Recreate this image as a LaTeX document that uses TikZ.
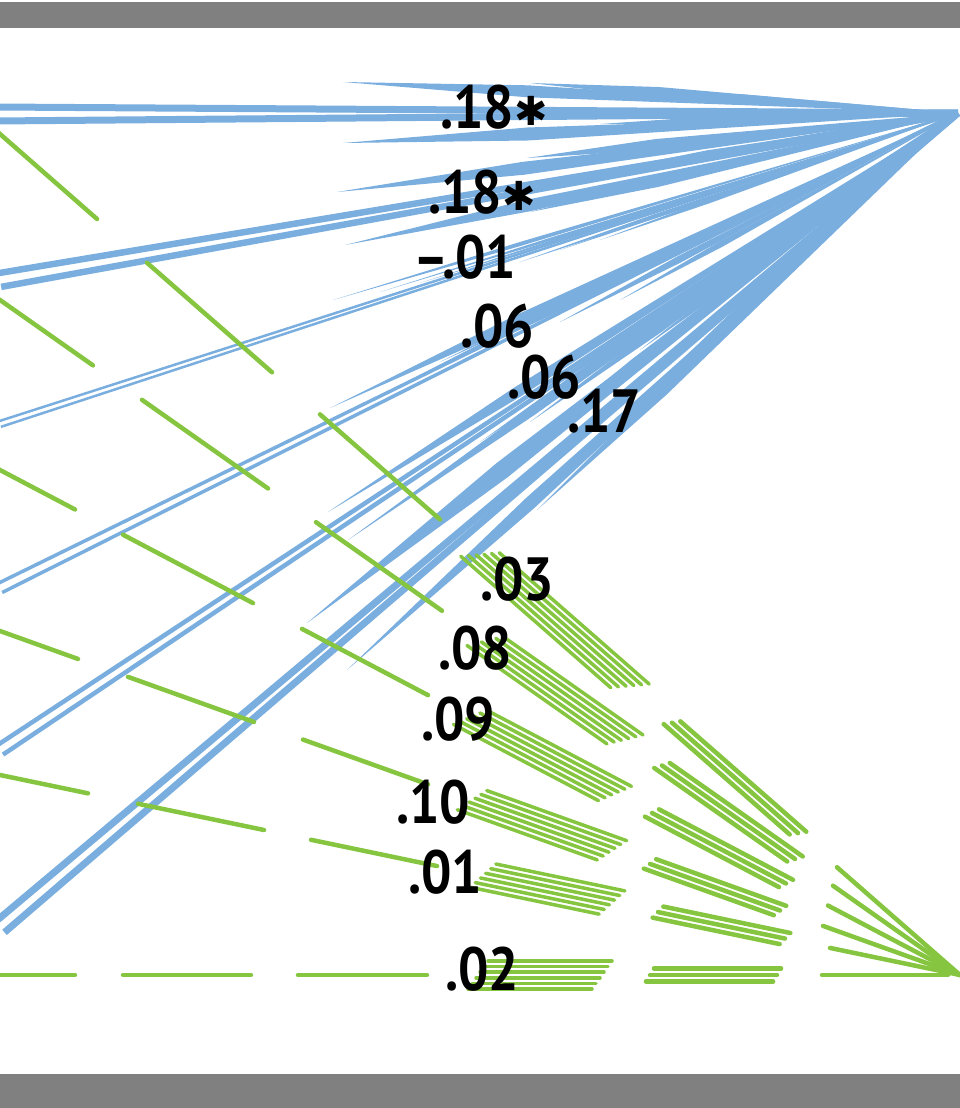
\documentclass[tikz,border=0pt]{standalone}
\usepackage{fontspec}
\newfontfamily\labfont[FakeStretch=0.88]{PT Sans}
\newfontfamily\symfont{DejaVu Sans}
\usetikzlibrary{calc}
\definecolor{bl}{RGB}{122,174,223}
\definecolor{gr}{RGB}{134,197,64}
\definecolor{barc}{RGB}{128,128,128}
\tikzset{
  grline/.style={draw=gr, line cap=round},
  blline/.style={draw=bl, line cap=butt},
  lab/.style={font=\labfont\bfseries\fontsize{61}{61}\selectfont, inner sep=0pt, anchor=base west, text=black},
}
\newcommand\labstar{{\symfont\fontsize{40}{40}\selectfont\raisebox{3pt}{✱}}}
% green segment: start height yL, x-range, perpendicular offset, width
\newcommand\gseg[5]{%
  \pgfmathsetmacro\gS{(975-(#1))/960}%
  \pgfmathsetmacro\gN{sqrt(1+\gS*\gS)}%
  \pgfmathsetmacro\gOx{-\gS*(#4)/\gN}%
  \pgfmathsetmacro\gOy{(#4)/\gN}%
  \draw[grline, line width=#5] ({#2+\gOx},{#1+\gS*(#2)+\gOy}) -- ({#3+\gOx},{#1+\gS*(#3)+\gOy});%
}
% blue double line from a named start to the apex
\newcommand\bpair[3]{%
  \draw[blline, line width=#3] ($(#1)!#2pt!90:(B)$) -- (B);
  \draw[blline, line width=#3] ($(#1)!#2pt!-90:(B)$) -- (B);
}
% blue tapered stroke from a tail point to the apex
\newcommand\bwedge[3]{%
  \pgfmathsetmacro\hw{#3/2}%
  \coordinate (wt) at (#1,#2);
  \coordinate (wm) at ($(wt)!0.3!(B)$);
  \fill[bl] (wt) -- ($(wm)!\hw pt!90:(B)$) -- (B) -- ($(wm)!\hw pt!-90:(B)$) -- cycle;
}
\begin{document}
\begin{tikzpicture}[x=1pt,y=-1pt]
\useasboundingbox (0,0) rectangle (960,1108);
\fill[barc] (0,2) rectangle (960,28);
\fill[barc] (0,1074) rectangle (960,1108);
\coordinate (B) at (958,113);
\coordinate (G) at (960,975);
\coordinate (L1) at (-5,114);
\coordinate (L2) at (0,280);
\coordinate (L3) at (0,424);
\coordinate (L4) at (0,588);
\coordinate (L5) at (0,750);
\coordinate (L6) at (0,927);
\begin{scope}
\clip (0,28) rectangle (960,1074);
% blue paths
\bpair{L1}{7}{7}
\bpair{L2}{7}{6.5}
\bpair{L3}{3}{2.5}
\bpair{L4}{5}{3.5}
\bpair{L5}{5.5}{4.5}
\bpair{L6}{7}{7}
\foreach \wx/\wy/\ww in {343/82/12, 530/83/10, 343/143/13, 527/158/11, 600/124/8, 650/92/8,
  337/192/13, 345/245/12, 530/212/9, 600/172/8, 650/182/7,
  333/300/4, 380/292/3, 420/283/3, 520/262/4, 560/250/3, 600/240/4,
  330/408/10, 400/385/8, 440/362/7, 560/322/7, 620/300/6,
  328/512/11, 348/540/9, 480/442/8, 530/422/8, 640/350/7,
  307/623/18, 347/670/13, 497/470/10, 537/510/10, 600/440/9, 640/400/8}
  {\bwedge{\wx}{\wy}{\ww}}
% green paths
\foreach \yl/\xa/\xb/\xc/\xd/\xe/\xf/\xg/\xh/\xk/\xm/\xn/\xz in {
  134/-5/97/147/272/320/440/480/630/672/798/837/960,
  300/-5/93/142/268/316/442/485/625/662/795/833/960,
  470/-5/75/123/253/302/428/470/615/652/786/828/960,
  631/-5/78/128/254/303/428/472/612/650/780/823/960,
  775/-5/88/138/264/311/437/483/612/658/785/830/960,
  975/-5/75/123/251/298/427/478/602/650/777/822/948}{
  \gseg{\yl}{\xa}{\xb}{0}{4.5}
  \gseg{\yl}{\xc}{\xd}{0}{4.5}
  \gseg{\yl}{\xe}{\xf}{0}{4.5}
  \foreach \kk in {-2.5,-1.5,-0.5,0.5,1.5,2.5}{
    \pgfmathsetmacro\pa{\xg-\kk*4}
    \pgfmathsetmacro\pb{\xh-\kk*4}
    \gseg{\yl}{\pa}{\pb}{\kk*5.6}{3.5}
  }
  \foreach \kk in {-1,0,1}{
    \pgfmathsetmacro\pa{\xk-\kk*4}
    \pgfmathsetmacro\pb{\xm-\kk*4}
    \gseg{\yl}{\pa}{\pb}{\kk*6.5}{4.5}
  }
  \gseg{\yl}{\xn}{\xz}{0}{4.5}
}
\end{scope}
% labels
\node[lab] (b1) at (440,128) {.18\labstar};
\node[lab] (b2) at (428,213) {.18\labstar};
\node[lab] (b3) at (413,278) {–.01};
\node[lab] (b4) at (460,347) {.06};
\node[lab] (b5) at (507,398) {.06};
\node[lab] (b6) at (567,432) {.17};
\node[lab] (g1) at (480,600) {.03};
\node[lab] (g2) at (438,669) {.08};
\node[lab] (g3) at (421,740) {.09};
\node[lab] (g4) at (396,823) {.10};
\node[lab] (g5) at (408,893) {.01};
\node[lab] (g6) at (445,990) {.02};
\end{tikzpicture}
\end{document}
